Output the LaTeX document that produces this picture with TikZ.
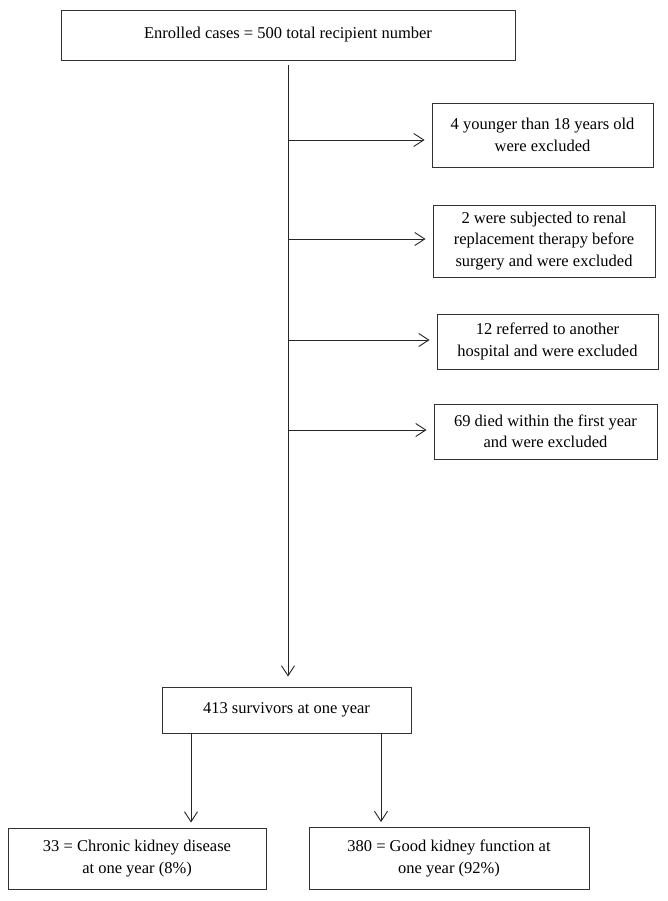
\documentclass[tikz,border=0pt]{standalone}
\usepackage{fontspec}
\setmainfont{Liberation Serif}
\usetikzlibrary{arrows.meta}
\begin{document}
\begin{tikzpicture}[x=1pt,y=-1pt,
  box/.style={draw=black!80, line width=0.9pt, align=center, inner sep=0pt,
    font=\fontsize{16.5}{21.5}\selectfont},
  conn/.style={draw=black!85, line width=0.9pt},
  arr/.style={conn, -{Straight Barb[length=10pt,width=13pt,line width=0.9pt]}, shorten >=7pt}]
\useasboundingbox (0,0) rectangle (668,901);
\node[box, minimum width=454, minimum height=50] (top) at (288,35) {Enrolled cases = 500 total recipient number};
\node[box, minimum width=221, minimum height=64] (b1) at (542.5,135) {4 younger than 18 years old\\were excluded};
\node[box, minimum width=222, minimum height=72] (b2) at (544,241) {2 were subjected to renal\\replacement therapy before\\surgery and were excluded};
\node[box, minimum width=221, minimum height=55] (b3) at (547.5,341.5) {12 referred to another\\hospital and were excluded};
\node[box, minimum width=223, minimum height=55] (b4) at (545.5,431.5) {69 died within the first year\\and were excluded};
\node[box, minimum width=249, minimum height=46] (s) at (286.5,710) {413 survivors at one year};
\node[box, minimum width=258, minimum height=61] (bl) at (137,858.5) {33 = Chronic kidney disease\\at one year (8\%)};
\node[box, minimum width=280, minimum height=62] (br) at (449,858.5) {380 = Good kidney function at\\one year (92\%)};
\coordinate (t0) at (288,65);
\coordinate (t1) at (288,140);
\coordinate (t2) at (288,239);
\coordinate (t3) at (288,340);
\coordinate (t4) at (288,430);
\draw[arr, shorten >=10pt] (t0) -- (t0 |- s.north);
\draw[arr] (t1) -- (t1 -| b1.west);
\draw[arr] (t2) -- (t2 -| b2.west);
\draw[arr] (t3) -- (t3 -| b3.west);
\draw[arr] (t4) -- (t4 -| b4.west);
\coordinate (d1) at (191,733);
\coordinate (d2) at (381,733);
\draw[arr, shorten >=5pt] (d1) -- (d1 |- bl.north);
\draw[arr, shorten >=5pt] (d2) -- (d2 |- br.north);
\end{tikzpicture}
\end{document}
